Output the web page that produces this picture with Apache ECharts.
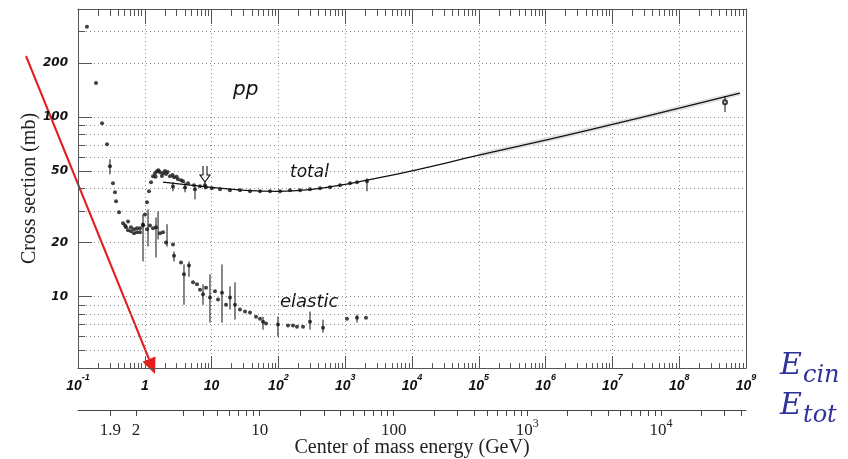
<!DOCTYPE html>
<html>
<head>
<meta charset="utf-8">
<script src="https://cdn.jsdelivr.net/npm/echarts@6/dist/echarts.min.js"></script>
<style>
  html, body { margin: 0; padding: 0; background: #fff; }
  #chart { width: 848px; height: 459px; }
</style>
</head>
<body>
<div id="chart"></div>
<script>
// pp cross sections vs beam momentum (GeV/c)
const totalP = [0.136, 0.186, 0.229, 0.272, 0.301, 0.334, 0.358, 0.371, 0.411, 0.472, 0.524, 0.561, 0.621, 0.689, 0.764, 0.847,
  0.94, 1.007, 1.079, 1.156, 1.239, 1.328, 1.422, 1.45, 1.524, 1.6, 1.69, 1.8, 1.87, 2.0, 2.08, 2.2, 2.38, 2.6, 2.64, 2.74, 3.0, 3.14,
  3.5, 3.73, 4.0, 4.44, 5.46, 5.64, 6.70, 7.96, 8.24, 10.1, 13.4, 18.8, 26.6, 37.6, 53.1, 74.8, 106, 149, 211, 297, 420, 592, 836,
  1180, 1503, 2120];
const totalSigma = [319, 155, 92.5, 70.6, 53.2, 42.8, 38.1, 34.0, 29.5, 25.6, 24.3, 26.2, 23.1, 23.7, 22.8, 24.0,
  24.9, 28.7, 33.5, 38.6, 43.4, 46.8, 48.6, 46.5, 49.9, 50.5, 49.3, 47.0, 48.6, 50.0, 48.1, 49.5, 46.8, 47.5, 41.0, 46.2, 46.5, 45.1,
  44.5, 43.9, 40.5, 42.8, 41.7, 39.6, 41.2, 41.7, 40.6, 40.1, 39.6, 39.1, 39.1, 38.6, 38.6, 38.6, 38.6, 39.1, 39.1, 39.6, 40.1, 40.6, 41.7,
  42.8, 43.4, 43.9];
// [p, low, high]
const totalErrors = [[0.301, 48.0, 58.2], [2.64, 38.6, 43.4], [4.0, 38.1, 43.4], [5.64, 34.8, 40.6], [7.96, 39.6, 43.4],
  [2120, 38.6, 45.6]];

const elasticP = [0.506, 0.560, 0.621, 0.689, 0.764, 0.847, 0.940, 1.079, 1.196, 1.327, 1.471, 1.689, 1.873, 2.077, 2.644, 2.736,
  3.483, 3.862, 4.587, 5.268, 6.044, 6.705, 7.435, 8.247, 9.463, 11.24, 12.47, 14.31, 16.43, 18.86, 22.40, 26.61, 31.62, 37.57,
  46.20, 53.04, 58.83, 65.23, 98.6, 139.2, 165.4, 189.8, 233.6, 297.2, 465.3, 1064, 1502, 2048];
const elasticSigma = [24.9, 23.4, 24.3, 22.5, 24.0, 22.8, 25.2, 23.7, 24.9, 24.0, 24.3, 22.5, 22.8, 20.0, 19.5, 16.9,
  15.5, 13.3, 14.9, 12.0, 11.7, 10.9, 10.3, 11.2, 9.87, 10.7, 9.62, 10.5, 9.0, 9.87, 9.0, 8.46, 8.25, 8.14,
  7.73, 7.53, 7.25, 7.07, 6.98, 6.89, 6.89, 6.80, 6.80, 7.25, 6.71, 7.53, 7.63, 7.63];
const elasticErrors = [[0.940, 15.7, 28.7], [1.117, 19.0, 30.6], [1.471, 16.5, 27.6], [1.58, 20.8, 29.8], [2.15, 19.0, 25.3],
  [2.736, 15.7, 17.8], [3.862, 9.0, 15.1], [4.587, 12.9, 15.7], [7.435, 9.0, 11.7], [9.463, 7.16, 13.3], [14.31, 7.16, 15.1],
  [18.86, 8.46, 11.4], [22.40, 7.44, 12.0], [58.83, 6.54, 7.73], [98.6, 5.98, 7.73], [297.2, 6.54, 8.25], [465.3, 6.29, 7.44],
  [1502, 7.16, 7.93]];

// cosmic ray point
const cosmicP = [4.85e8];
const cosmicSigma = [121];
const cosmicErrors = [[4.85e8, 106.7, 131]];

// fitted curve through the total cross section
const fitP = [1.87, 10, 31.6, 100, 316, 1000, 2120, 1e4, 1e5, 1e6, 1e7, 1e8, 8.1e8];
const fitSigma = [43.4, 40.6, 39.1, 38.6, 39.6, 42.2, 44.5, 50.2, 61.3, 74.5, 91, 112, 136];
const bandP = [1e5, 1e6, 1e7, 1e8, 8.1e8];
const bandSigma = [61.3, 74.5, 91, 112, 136];

// axis ticks
const decadeTicks = [0.1, 1, 10, 1e2, 1e3, 1e4, 1e5, 1e6, 1e7, 1e8, 1e9];
const minorSteps = [2, 3, 4, 5, 6, 7, 8, 9];
const yMajorTicks = [10, 20, 50, 100, 200];
const yMinorTicks = [5, 6, 7, 8, 9, 30, 40, 60, 70, 80, 90, 300];
// centre of mass energy scale (GeV)
const sqrtsTicks = [1.9, 2, 3, 4, 5, 6, 7, 8, 9, 10, 20, 30, 40, 50, 60, 70, 80, 90, 100,
  200, 300, 400, 500, 600, 700, 800, 900, 1000, 2000, 3000, 4000, 5000, 6000, 7000, 8000, 9000, 10000, 20000, 30000, 40000];
const sqrtsLabels = [1.9, 2, 10, 100, 1000, 10000];

const PROTON_MASS = 0.938;
function plabFromSqrtS(rs) {
  const s = rs * rs;
  const e = (s - 2 * PROTON_MASS * PROTON_MASS) / (2 * PROTON_MASS);
  return Math.sqrt(e * e - PROTON_MASS * PROTON_MASS);
}

const minorTicks = [];
decadeTicks.slice(0, -1).forEach(d => minorSteps.forEach(k => minorTicks.push(k * d)));
const sqrtsTickP = sqrtsTicks.map(plabFromSqrtS);
const sqrtsLabelP = sqrtsLabels.map(plabFromSqrtS);

function zip(a, b) { return a.map((v, i) => [v, b[i]]); }

function decadeLabel(value) {
  const e = Math.round(Math.log10(value));
  if (e === 0) return '{b|1}';
  if (e === 1) return '{b|10}';
  return '{b|10}{s|' + e + '}';
}
function sqrtsLabel(value) {
  let best = 0;
  sqrtsLabelP.forEach((p, i) => {
    if (Math.abs(Math.log(p / value)) < Math.abs(Math.log(sqrtsLabelP[best] / value))) best = i;
  });
  const v = sqrtsLabels[best];
  if (v >= 1000) return '{b|10}{s|' + Math.round(Math.log10(v)) + '}';
  return '{b|' + v + '}';
}

function errorBars(params, api) {
  const lo = api.coord([api.value(0), api.value(1)]);
  const hi = api.coord([api.value(0), api.value(2)]);
  return {
    type: 'line',
    shape: { x1: lo[0], y1: lo[1], x2: hi[0], y2: hi[1] },
    style: { stroke: '#111', lineWidth: 1 }
  };
}

const frame = { color: '#555', width: 1 };
const dotted = { color: '#8a8a8a', width: 1, type: [1, 3] };
const sansBI = { fontFamily: 'Liberation Sans', fontStyle: 'italic', fontWeight: 'bold', color: '#111' };

const chart = echarts.init(document.getElementById('chart'), null, { renderer: 'canvas' });

const option = {
  animation: false,
  backgroundColor: '#fff',
  grid: { left: 78, right: 102, top: 9, bottom: 91, outerBoundsMode: 'none', containLabel: false },
  xAxis: [
    {
      type: 'log', min: 0.1, max: 1e9, position: 'bottom',
      axisLine: { show: true, onZero: false, lineStyle: frame },
      axisTick: { show: true, inside: true, length: 12, customValues: decadeTicks, lineStyle: frame },
      axisLabel: {
        customValues: decadeTicks, margin: 5, formatter: decadeLabel,
        rich: {
          b: Object.assign({ fontSize: 14, lineHeight: 20, verticalAlign: 'bottom' }, sansBI),
          s: Object.assign({ fontSize: 9, lineHeight: 9, verticalAlign: 'top' }, sansBI)
        }
      },
      splitLine: { show: true, lineStyle: dotted }
    },
    {
      type: 'log', min: 0.1, max: 1e9, position: 'bottom',
      axisLine: { show: false },
      axisTick: { show: true, inside: true, length: 5, customValues: minorTicks, lineStyle: frame },
      axisLabel: { show: false },
      splitLine: { show: false }
    },
    {
      type: 'log', min: 0.1, max: 1e9, position: 'top',
      axisLine: { show: true, onZero: false, lineStyle: frame },
      axisTick: { show: true, inside: true, length: 15, customValues: decadeTicks, lineStyle: frame },
      axisLabel: { show: false },
      splitLine: { show: false }
    },
    {
      type: 'log', min: 0.1, max: 1e9, position: 'top',
      axisLine: { show: false },
      axisTick: { show: true, inside: true, length: 7, customValues: minorTicks, lineStyle: frame },
      axisLabel: { show: false },
      splitLine: { show: false }
    },
    {
      type: 'log', min: 0.1, max: 1e9, position: 'bottom', offset: 42,
      name: 'Center of mass energy (GeV)', nameLocation: 'middle', nameGap: 28, nameMoveOverlap: false,
      nameTextStyle: { fontFamily: 'Liberation Serif', fontSize: 20, color: '#222' },
      axisLine: { show: true, onZero: false, lineStyle: { color: '#444', width: 1 } },
      axisTick: { show: true, inside: false, length: 6, customValues: sqrtsTickP, lineStyle: { color: '#444' } },
      axisLabel: {
        customValues: sqrtsLabelP, margin: 8, formatter: sqrtsLabel,
        rich: {
          b: { fontFamily: 'Liberation Serif', fontSize: 17, lineHeight: 21, verticalAlign: 'bottom', color: '#222' },
          s: { fontFamily: 'Liberation Serif', fontSize: 12, lineHeight: 12, verticalAlign: 'top', color: '#222' }
        }
      },
      splitLine: { show: false }
    }
  ],
  yAxis: [
    {
      type: 'log', min: 4, max: 400, position: 'left',
      name: 'Cross section (mb)', nameLocation: 'middle', nameGap: 38, nameMoveOverlap: false,
      nameTextStyle: { fontFamily: 'Liberation Serif', fontSize: 20, color: '#222' },
      axisLine: { show: true, onZero: false, lineStyle: frame },
      axisTick: { show: true, inside: true, length: 14, customValues: yMajorTicks, lineStyle: frame },
      axisLabel: {
        customValues: yMajorTicks, margin: 10,
        fontFamily: 'DejaVu Sans', fontStyle: 'italic', fontWeight: 'bold', fontSize: 12, color: '#111'
      },
      splitLine: { show: true, lineStyle: dotted }
    },
    {
      type: 'log', min: 4, max: 400, position: 'left',
      axisLine: { show: false },
      axisTick: { show: true, inside: true, length: 7, customValues: yMinorTicks, lineStyle: frame },
      axisLabel: { show: false },
      splitLine: { show: true, lineStyle: dotted }
    },
    {
      type: 'log', min: 4, max: 400, position: 'right',
      axisLine: { show: true, onZero: false, lineStyle: frame },
      axisTick: { show: false },
      axisLabel: { show: false },
      splitLine: { show: false }
    }
  ],
  series: [
    {
      type: 'line', data: zip(bandP, bandSigma), smooth: true, symbol: 'none',
      lineStyle: { color: '#e2e2e2', width: 5 }, z: 1
    },
    {
      type: 'line', data: zip(fitP, fitSigma), smooth: true, symbol: 'none',
      lineStyle: { color: '#111', width: 1.3 }, z: 2
    },
    { type: 'custom', data: totalErrors, renderItem: errorBars, encode: { x: 0, y: [1, 2] }, z: 3 },
    { type: 'custom', data: elasticErrors, renderItem: errorBars, encode: { x: 0, y: [1, 2] }, z: 3 },
    { type: 'custom', data: cosmicErrors, renderItem: errorBars, encode: { x: 0, y: [1, 2] }, z: 3 },
    {
      type: 'scatter', data: zip(totalP, totalSigma), symbol: 'circle', symbolSize: 4,
      itemStyle: { color: '#111' }, z: 4
    },
    {
      type: 'scatter', data: zip(elasticP, elasticSigma), symbol: 'circle', symbolSize: 4,
      itemStyle: { color: '#111' }, z: 4
    },
    {
      type: 'scatter', data: zip(cosmicP, cosmicSigma), symbol: 'emptyCircle', symbolSize: 4,
      itemStyle: { color: '#111', borderWidth: 1 }, z: 4
    }
  ],
  graphic: [
    { type: 'text', x: 233, y: 90, style: { text: 'pp', fontFamily: 'DejaVu Sans', fontStyle: 'italic', fontSize: 20, fill: '#111', verticalAlign: 'middle' } },
    { type: 'text', x: 290, y: 173, style: { text: 'total', fontFamily: 'DejaVu Sans', fontStyle: 'italic', fontSize: 17, fill: '#111', verticalAlign: 'middle' } },
    { type: 'text', x: 280, y: 302, style: { text: 'elastic', fontFamily: 'DejaVu Sans', fontStyle: 'italic', fontSize: 18, fill: '#111', verticalAlign: 'middle' } },
    {
      type: 'polyline',
      shape: { points: [[203, 166], [203, 175], [200, 175], [205, 182], [210, 175], [207, 175], [207, 166]] },
      style: { stroke: '#111', lineWidth: 1.1, fill: null }
    },
    { type: 'line', shape: { x1: 26, y1: 56, x2: 149, y2: 359 }, style: { stroke: '#e51c1c', lineWidth: 2 } },
    { type: 'polygon', shape: { points: [[155, 374], [155.5, 356.6], [142.5, 361.8]] }, style: { fill: '#e51c1c' } },
    { type: 'text', x: 780, y: 366, style: { text: 'E', fontFamily: 'DejaVu Serif', fontStyle: 'italic', fontSize: 30, fill: '#2f3399', verticalAlign: 'middle' } },
    { type: 'text', x: 803, y: 376, style: { text: 'cin', fontFamily: 'DejaVu Serif', fontStyle: 'italic', fontSize: 24, fill: '#2f3399', verticalAlign: 'middle' } },
    { type: 'text', x: 780, y: 406, style: { text: 'E', fontFamily: 'DejaVu Serif', fontStyle: 'italic', fontSize: 30, fill: '#2f3399', verticalAlign: 'middle' } },
    { type: 'text', x: 803, y: 416, style: { text: 'tot', fontFamily: 'DejaVu Serif', fontStyle: 'italic', fontSize: 24, fill: '#2f3399', verticalAlign: 'middle' } }
  ]
};

chart.setOption(option);
</script>
</body>
</html>
